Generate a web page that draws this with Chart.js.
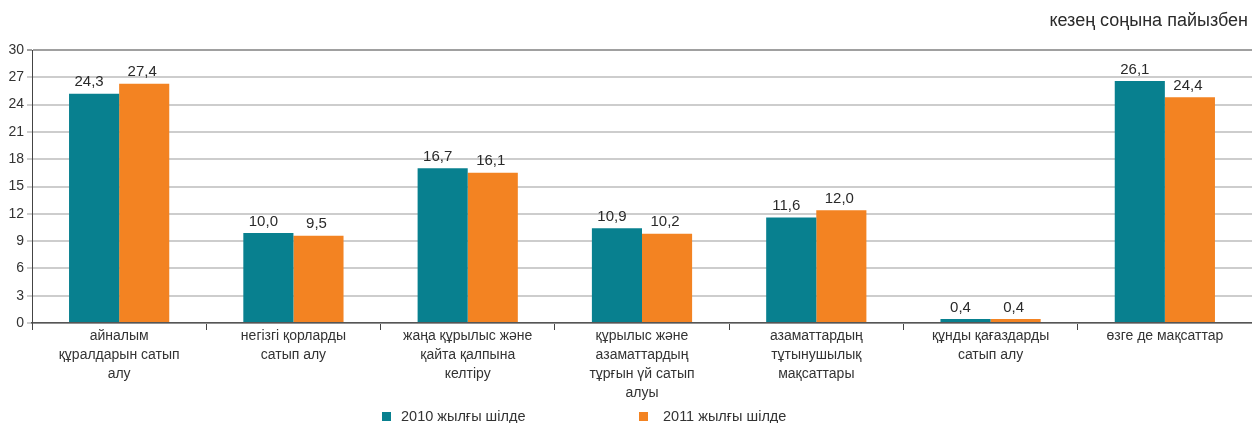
<!DOCTYPE html>
<html lang="kk">

<head>
    <meta charset="UTF-8">
    <title>Кредиттер мақсаттар бойынша</title>
    <script src="https://cdn.jsdelivr.net/npm/chart.js"></script>
    <style>
        body { margin: 0; background: #fff; font-family: "Liberation Sans", Arial, sans-serif; color: #333; }
        .wrap { position: relative; width: 1252px; height: 423px; }
        .birlik { position: absolute; right: 4px; top: 10px; font-size: 18px; color: #2a2a2a; }
        .legenda { position: absolute; top: 408px; font-size: 14.5px; display: flex; align-items: center; }
        .legenda span.kv { width: 9px; height: 9px; display: inline-block; }
    </style>
</head>

<body>
    <div class="wrap">
        <canvas id="grafik" width="1252" height="423"></canvas>
        <div class="birlik">кезең соңына пайызбен</div>
        <div class="legenda" style="left:382px;"><span class="kv" style="background:#08808f;margin-right:10px"></span>2010 жылғы шілде</div>
        <div class="legenda" style="left:639px;"><span class="kv" style="background:#f38322;margin-right:15px"></span>2011 жылғы шілде</div>
    </div>

<script>
    // санаттар
    const sanattar = [
        ['айналым', 'құралдарын сатып', 'алу'],
        ['негізгі қорларды', 'сатып алу'],
        ['жаңа құрылыс және', 'қайта қалпына', 'келтіру'],
        ['құрылыс және', 'азаматтардың', 'тұрғын үй сатып', 'алуы'],
        ['азаматтардың', 'тұтынушылық', 'мақсаттары'],
        ['құнды қағаздарды', 'сатып алу'],
        ['өзге де мақсаттар']
    ];

    // бағандардың биіктігі (суреттен)
    const mani2010 = [25.2, 9.9, 17.0, 10.4, 11.6, 0.45, 26.6];
    const mani2011 = [26.3, 9.6, 16.5, 9.8, 12.4, 0.45, 24.8];

    // бағандардың үстіндегі жазулар
    const jazu2010 = ['24,3', '10,0', '16,7', '10,9', '11,6', '0,4', '26,1'];
    const jazu2011 = ['27,4', '9,5', '16,1', '10,2', '12,0', '0,4', '24,4'];

    const yTicks = [0, 3, 6, 9, 12, 15, 18, 21, 24, 27, 30];

    // мәндерді бағандардың үстіне жазу
    const jazuPlugin = {
        id: 'jazu',
        afterDatasetsDraw(chart) {
            const ctx = chart.ctx;
            ctx.save();
            ctx.font = '15px "Liberation Sans", Arial, sans-serif';
            ctx.fillStyle = '#2a2a2a';
            ctx.textAlign = 'center';
            ctx.textBaseline = 'bottom';
            chart.data.datasets.forEach((ds, i) => {
                const dx = i === 0 ? -5 : -2;
                chart.getDatasetMeta(i).data.forEach((bar, j) => {
                    ctx.fillText(ds.jazu[j], bar.x + dx, bar.y - 4);
                });
            });
            ctx.restore();
        }
    };

    Chart.defaults.font.family = '"Liberation Sans", Arial, sans-serif';
    Chart.defaults.font.size = 14;
    Chart.defaults.color = '#333333';

    new Chart(document.getElementById('grafik'), {
        type: 'bar',
        data: {
            labels: sanattar,
            datasets: [
                { label: '2010 жылғы шілде', data: mani2010, jazu: jazu2010, backgroundColor: '#08808f' },
                { label: '2011 жылғы шілде', data: mani2011, jazu: jazu2011, backgroundColor: '#f38322' }
            ]
        },
        options: {
            responsive: false,
            animation: false,
            layout: { padding: { top: 50, left: 0, right: 0, bottom: 0 } },
            datasets: { bar: { categoryPercentage: 0.575, barPercentage: 1 } },
            plugins: { legend: { display: false }, tooltip: { enabled: false } },
            scales: {
                x: {
                    afterFit(s) { s.height = 100; },
                    grid: { drawOnChartArea: false, offset: true, tickLength: 7, color: '#444444' },
                    border: { color: '#555555', width: 1.5 },
                    ticks: { padding: -3, maxRotation: 0, autoSkip: false, font: { size: 14, lineHeight: 1.35 } }
                },
                y: {
                    min: 0,
                    max: 30,
                    afterFit(s) { s.width = 32; },
                    afterBuildTicks(s) { s.ticks = yTicks.map(v => ({ value: v })); },
                    grid: {
                        tickLength: 5,
                        lineWidth: 2,
                        color: (c) => c.tick && c.tick.value === 30 ? '#a0a0a0' : '#cdcdcd'
                    },
                    border: { color: '#444444', width: 1 },
                    ticks: { padding: 3, font: { size: 14 } }
                }
            }
        },
        plugins: [jazuPlugin]
    });
</script>
</body>

</html>
